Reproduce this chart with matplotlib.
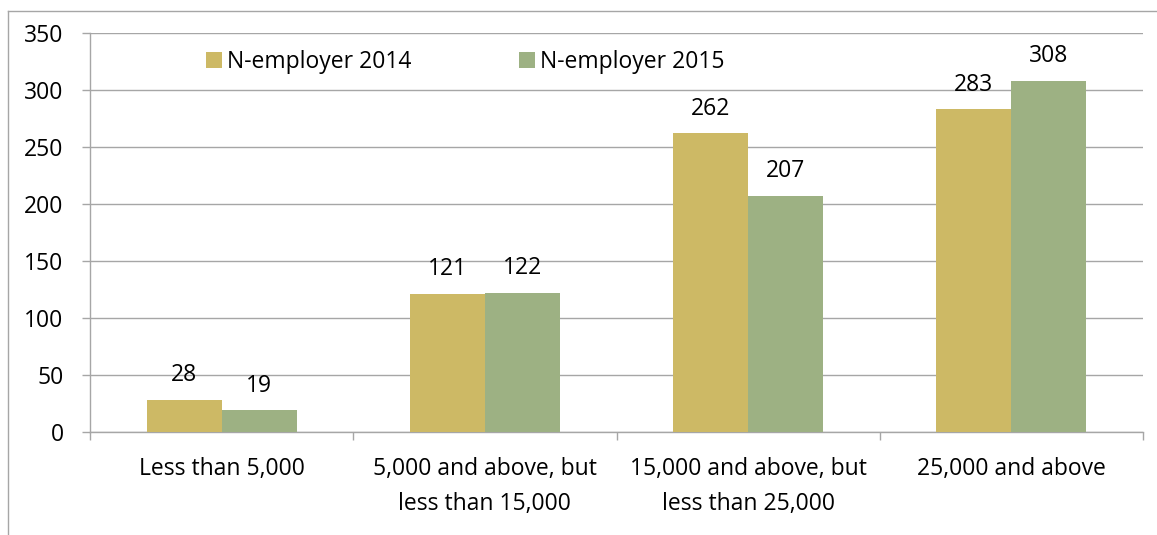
import matplotlib
matplotlib.use("Agg")
import matplotlib.pyplot as plt
import numpy as np
from matplotlib.lines import Line2D

categories = ["Less than 5,000", "5,000 and above, but\nless than 15,000",
              "15,000 and above, but\nless than 25,000", "25,000 and above"]
n2014 = [28, 121, 262, 283]
n2015 = [19, 122, 207, 308]
series_names = ["N-employer 2014", "N-employer 2015"]
yticks = [0, 50, 100, 150, 200, 250, 300, 350]

plt.rcParams['font.family'] = ['Open Sans', 'DejaVu Sans']
fs = 16.5
grey = '#a6a6a6'
c14 = '#cdb965'
c15 = '#9db183'

fig = plt.figure(figsize=(11.57, 5.35), dpi=100)
ax = fig.add_axes([90/1157, 1-432/535, (1143-90)/1157, (432-33)/535])

x = np.arange(len(categories))
w = 0.285
b1 = ax.bar(x - w/2, n2014, w, color=c14, label=series_names[0], zorder=3)
b2 = ax.bar(x + w/2, n2015, w, color=c15, label=series_names[1], zorder=3)

# value labels over each bar
for bars, vals in ((b1, n2014), (b2, n2015)):
    for r, v in zip(bars, vals):
        ax.annotate(str(v), (r.get_x() + r.get_width()/2, v), xytext=(0, 13.5),
                    textcoords='offset points', ha='center', va='baseline',
                    fontsize=fs)

ax.set_xlim(-0.5, len(categories) - 0.5)
ax.set_ylim(0, 350)
ax.set_yticks(yticks)
ax.yaxis.grid(True, color=grey, linewidth=1.0, zorder=0)
ax.tick_params(axis='y', length=6, width=1.0, color=grey, pad=13, labelsize=fs)

ax.set_xticks(x)
ax.set_xticklabels(categories, fontsize=fs, linespacing=1.6)
ax.set_xticks(np.arange(-0.5, len(categories)), minor=True)
ax.tick_params(axis='x', which='major', length=0, pad=18)
ax.tick_params(axis='x', which='minor', length=6, width=1.0, color=grey)

for s in ('top', 'right'):
    ax.spines[s].set_visible(False)
for s in ('left', 'bottom'):
    ax.spines[s].set_color(grey)
    ax.spines[s].set_linewidth(1.0)

fig.legend(loc='center left', bbox_to_anchor=(206/1157, 1-62/535), ncol=2,
           frameon=False, fontsize=fs, borderpad=0, borderaxespad=0,
           handlelength=0.7, handleheight=0.7, handletextpad=0.22,
           columnspacing=4.7)

# outer chart frame (left and top edges)
x0, y0 = 7.5/1157, 1-10.5/535
fig.add_artist(Line2D([x0, x0], [0, y0], color=grey, linewidth=1.0))
fig.add_artist(Line2D([x0, 1], [y0, y0], color=grey, linewidth=1.0))

fig.savefig("out.png", dpi=100)
